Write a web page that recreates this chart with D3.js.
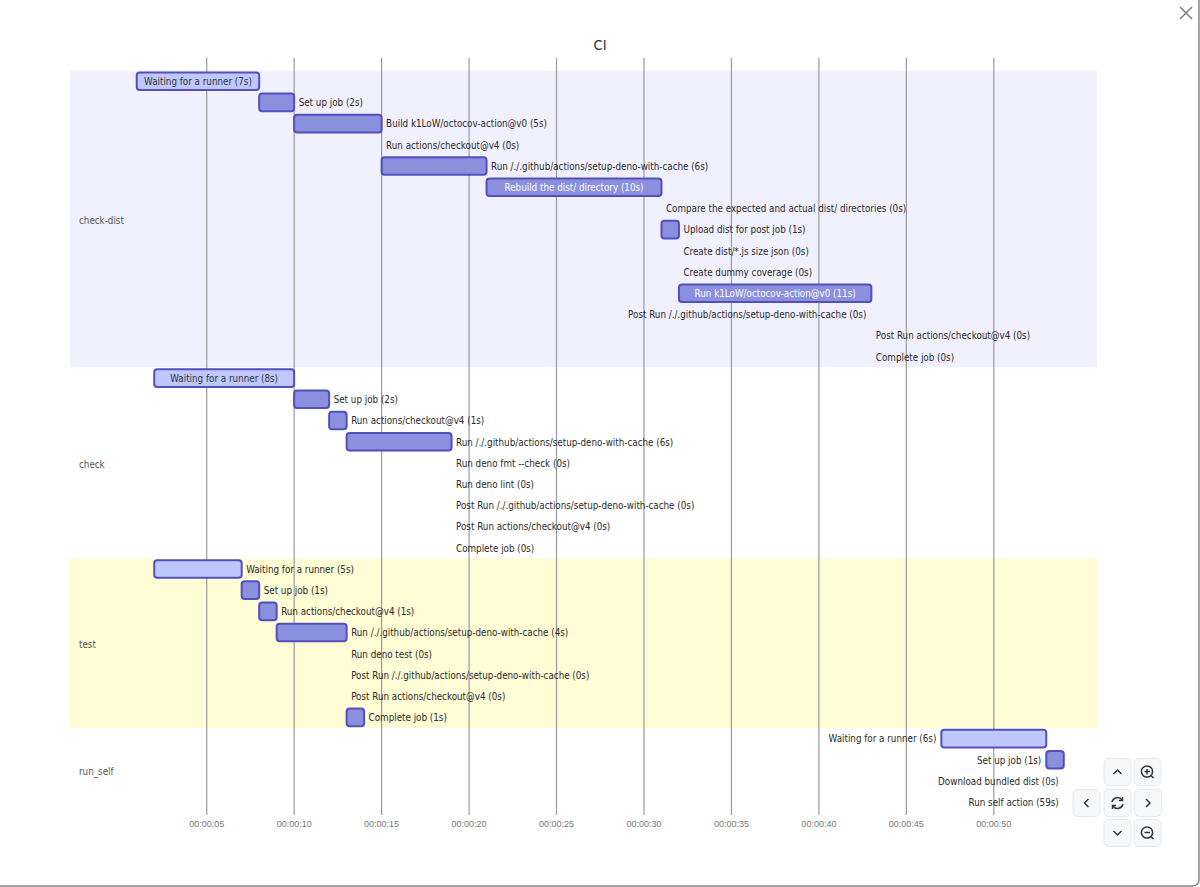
<!DOCTYPE html>
<html>
<head>
<meta charset="utf-8">
<style>
html, body { margin: 0; padding: 0; background: #fff; overflow: hidden; }
text { font-family: "DejaVu Sans Condensed", "DejaVu Sans", sans-serif; font-stretch: condensed; }
</style>
<script src="https://d3js.org/d3.v7.min.js"></script>
</head>
<body>
<svg id="chart" width="1200" height="887"></svg>
<script>
var title = "CI";

var sections = ["check-dist", "check", "test", "run_self"];
var sectionCounts = [14, 9, 8, 4];

var taskNames = [
  "Waiting for a runner (7s)", "Set up job (2s)", "Build k1LoW/octocov-action@v0 (5s)",
  "Run actions/checkout@v4 (0s)", "Run /./.github/actions/setup-deno-with-cache (6s)",
  "Rebuild the dist/ directory (10s)", "Compare the expected and actual dist/ directories (0s)",
  "Upload dist for post job (1s)", "Create dist/*.js size json (0s)", "Create dummy coverage (0s)",
  "Run k1LoW/octocov-action@v0 (11s)", "Post Run /./.github/actions/setup-deno-with-cache (0s)",
  "Post Run actions/checkout@v4 (0s)", "Complete job (0s)",
  "Waiting for a runner (8s)", "Set up job (2s)", "Run actions/checkout@v4 (1s)",
  "Run /./.github/actions/setup-deno-with-cache (6s)", "Run deno fmt --check (0s)", "Run deno lint (0s)",
  "Post Run /./.github/actions/setup-deno-with-cache (0s)", "Post Run actions/checkout@v4 (0s)", "Complete job (0s)",
  "Waiting for a runner (5s)", "Set up job (1s)", "Run actions/checkout@v4 (1s)",
  "Run /./.github/actions/setup-deno-with-cache (4s)", "Run deno test (0s)",
  "Post Run /./.github/actions/setup-deno-with-cache (0s)", "Post Run actions/checkout@v4 (0s)", "Complete job (1s)",
  "Waiting for a runner (6s)", "Set up job (1s)", "Download bundled dist (0s)", "Run self action (59s)"
];
var taskStarts = [1, 8, 10, 15, 15, 21, 31, 31, 32, 32, 32, 43, 43, 43,
                  2, 10, 12, 13, 19, 19, 19, 19, 19,
                  2, 7, 8, 9, 13, 13, 13, 13,
                  47, 53, 54, 54];
var taskEnds = [8, 10, 15, 15, 21, 31, 31, 32, 32, 32, 43, 43, 43, 43,
                10, 12, 13, 19, 19, 19, 19, 19, 19,
                7, 8, 9, 13, 13, 13, 13, 14,
                53, 54, 54, 54];
// the runner waits are the only "active" bars, the rest are done
var taskActive = [1, 0, 0, 0, 0, 0, 0, 0, 0, 0, 0, 0, 0, 0,
                  1, 0, 0, 0, 0, 0, 0, 0, 0,
                  1, 0, 0, 0, 0, 0, 0, 0,
                  1, 0, 0, 0];
var tickSeconds = [5, 10, 15, 20, 25, 30, 35, 40, 45, 50];

var svg = d3.select("#chart");
var fontSize = 9.75;

// window frame
svg.append("rect").attr("x", -6).attr("y", -6).attr("width", 1205).attr("height", 892)
  .attr("rx", 6).attr("fill", "#fff").attr("stroke", "#8a8a8a").attr("stroke-width", 1.5);

var x = d3.scaleUtc()
  .domain([new Date(Date.UTC(1970, 0, 1, 0, 0, 5)), new Date(Date.UTC(1970, 0, 1, 0, 0, 50))])
  .range([206.7, 993.8]);
function t(s) { return new Date(Date.UTC(1970, 0, 1, 0, 0, s)); }

var y = d3.scaleBand()
  .domain(d3.range(taskNames.length))
  .range([70.6, 812.8])
  .paddingInner(0.17)
  .paddingOuter(0.085);
var step = y.step();

// section bands
var bandColors = ["#f0f0ff", "#ffffff", "#fffcd6", "#ffffff"];
var startRow = 0;
sections.forEach(function(name, i) {
  var top = 70.6 + startRow * step;
  var h = sectionCounts[i] * step;
  svg.append("rect").attr("x", 70).attr("y", top).attr("width", 1027).attr("height", h)
    .attr("fill", bandColors[i]);
  svg.append("text").attr("x", 79).attr("y", top + h / 2 + 4.8)
    .attr("font-size", fontSize).attr("fill", "#555").text(name);
  startRow += sectionCounts[i];
});

// axis and vertical grid
var axis = d3.axisBottom(x)
  .tickValues(tickSeconds.map(t))
  .tickFormat(d3.utcFormat("%H:%M:%S"))
  .tickSize(-757)
  .tickPadding(6)
  .offset(0);
var gAxis = svg.append("g").attr("transform", "translate(0,815)").call(axis);
gAxis.select(".domain").remove();
gAxis.selectAll("line").attr("stroke", "#9a9a9e").attr("stroke-width", 1.2);
gAxis.selectAll("text").attr("font-size", 9).attr("fill", "#777")
  .style("font-family", "Liberation Sans, sans-serif").style("font-stretch", "normal");

svg.append("text").attr("x", 600).attr("y", 50).attr("text-anchor", "middle")
  .attr("font-size", 14.5).attr("fill", "#333").text(title);

// bars
var rows = d3.range(taskNames.length);
svg.append("g").selectAll("rect").data(rows.filter(function(i) { return taskEnds[i] > taskStarts[i]; }))
  .join("rect")
  .attr("x", function(i) { return x(t(taskStarts[i])); })
  .attr("y", function(i) { return y(i); })
  .attr("width", function(i) { return x(t(taskEnds[i])) - x(t(taskStarts[i])); })
  .attr("height", y.bandwidth())
  .attr("rx", 3)
  .attr("fill", function(i) { return taskActive[i] ? "#bfc7ff" : "#8a90dd"; })
  .attr("stroke", "#534fbc")
  .attr("stroke-width", 2);

// labels: inside when they fit, else right of the bar, else left of it
svg.append("g").selectAll("text").data(rows).join("text")
  .attr("font-size", fontSize)
  .attr("y", function(i) { return y(i) + y.bandwidth() / 2 + 3.8; })
  .text(function(i) { return taskNames[i]; })
  .each(function(i) {
    var el = d3.select(this);
    var w = this.getComputedTextLength();
    var x0 = x(t(taskStarts[i])), x1 = x(t(taskEnds[i]));
    if (w < x1 - x0) {
      el.attr("x", (x0 + x1) / 2).attr("text-anchor", "middle")
        .attr("fill", taskActive[i] ? "#333" : "#fff");
    } else if (x1 + 5 + w < 1097) {
      el.attr("x", x1 + 4.5).attr("fill", "#2a2a2a");
    } else {
      el.attr("x", x0 - 5).attr("text-anchor", "end").attr("fill", "#2a2a2a");
    }
  });

// close icon
var iconColor = "#333";
svg.append("path").attr("d", "M1180 7L1192 19M1192 7L1180 19")
  .attr("stroke", "#7a7f8a").attr("stroke-width", 1.5).attr("fill", "none");

// toolbar
var buttonNames = ["up", "in", "left", "reset", "right", "down", "out"];
var buttonX = [1117.5, 1147.5, 1086.5, 1117.5, 1148, 1117.5, 1147.5];
var buttonY = [772, 772, 803, 803, 803, 833, 833];
var icons = {
  up: "M-4 2L0 -2L4 2",
  down: "M-4 -2L0 2L4 -2",
  left: "M2 -4L-2 0L2 4",
  right: "M-2 -4L2 0L-2 4"
};
buttonNames.forEach(function(name, i) {
  var g = svg.append("g").attr("transform", "translate(" + buttonX[i] + "," + buttonY[i] + ")");
  g.append("rect").attr("x", -13.5).attr("y", -13.5).attr("width", 27).attr("height", 27).attr("rx", 5)
    .attr("fill", "#f6f8fa").attr("stroke", "#e6e8ec");
  var ink = g.append("g").attr("fill", "none").attr("stroke", iconColor).attr("stroke-width", 1.5);
  if (icons[name]) {
    ink.append("path").attr("d", icons[name]);
  } else if (name === "reset") {
    ink.append("path").attr("d", "M-5.5 -1A5.6 5.6 0 0 1 4.5 -3.2M5.5 1A5.6 5.6 0 0 1 -4.5 3.2");
    ink.append("path").attr("d", "M5 -6L5 -2.4L1.5 -2.4M-5 6L-5 2.4L-1.5 2.4");
  } else {
    ink.append("circle").attr("cx", -0.5).attr("cy", -0.5).attr("r", 5.6);
    ink.append("path").attr("d", "M3.6 3.6L6 6");
    ink.append("path").attr("d", name === "in" ? "M-3 -0.5H2.5M-0.5 -3V2.5" : "M-3 -0.5H2.5");
  }
});
</script>
</body>
</html>
